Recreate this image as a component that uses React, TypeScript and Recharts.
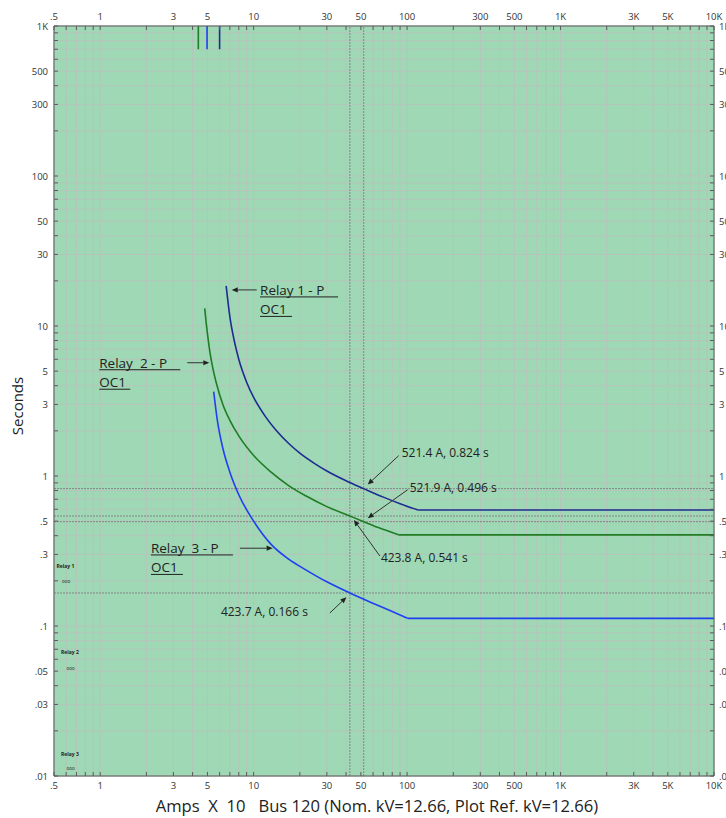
import React from 'react';
import { LineChart, Line, XAxis, YAxis, CartesianGrid, ReferenceLine, ReferenceDot } from 'recharts';

// time-current curves (x = Amps X 10, y = seconds)
const relay1Curve = [
  { x: 6.62, y: 18.5 }, { x: 7.0, y: 11.5 }, { x: 7.5, y: 7.85 }, { x: 8, y: 6.0 },
  { x: 9, y: 4.22 }, { x: 10, y: 3.34 }, { x: 12, y: 2.47 }, { x: 14, y: 2.02 },
  { x: 17, y: 1.64 }, { x: 20, y: 1.42 }, { x: 25, y: 1.21 }, { x: 30, y: 1.08 },
  { x: 40, y: 0.93 }, { x: 52.14, y: 0.824 }, { x: 70, y: 0.723 }, { x: 90, y: 0.654 },
  { x: 118, y: 0.593 },
];
const relay1Flat = [{ x: 118, y: 0.593 }, { x: 10000, y: 0.593 }];
const relay2Curve = [
  { x: 4.8, y: 13.1 }, { x: 4.9, y: 10.6 }, { x: 5.0, y: 8.9 }, { x: 5.2, y: 6.6 },
  { x: 5.45, y: 5.1 }, { x: 5.7, y: 4.2 }, { x: 6.3, y: 3.0 }, { x: 7, y: 2.35 },
  { x: 8, y: 1.85 }, { x: 10, y: 1.37 }, { x: 13, y: 1.06 }, { x: 17, y: 0.86 },
  { x: 22, y: 0.735 }, { x: 30, y: 0.625 }, { x: 42.38, y: 0.541 }, { x: 52.19, y: 0.496 },
  { x: 65, y: 0.453 }, { x: 88, y: 0.405 },
];
const relay2Flat = [{ x: 88, y: 0.405 }, { x: 10000, y: 0.405 }];
const relay3Curve = [
  { x: 5.49, y: 3.65 }, { x: 5.8, y: 2.35 }, { x: 6.3, y: 1.53 }, { x: 7, y: 1.06 },
  { x: 8, y: 0.75 }, { x: 10, y: 0.5 }, { x: 13, y: 0.35 }, { x: 17, y: 0.278 },
  { x: 22, y: 0.236 }, { x: 30, y: 0.197 }, { x: 42.37, y: 0.166 }, { x: 59.8, y: 0.142 },
  { x: 80, y: 0.125 }, { x: 101, y: 0.1125 },
];
const relay3Flat = [{ x: 101, y: 0.1125 }, { x: 10000, y: 0.1125 }];
const relay1Top = [{ x: 6.0, y: 1000 }, { x: 6.0, y: 700 }];
const relay2Top = [{ x: 4.36, y: 1000 }, { x: 4.36, y: 700 }];
const relay3Top = [{ x: 4.97, y: 1000 }, { x: 4.97, y: 700 }];

const xLabelValues = [0.5, 1, 3, 5, 10, 30, 50, 100, 300, 500, 1000, 3000, 5000, 10000];
const xLabelTexts = ['.5', '1', '3', '5', '10', '30', '50', '100', '300', '500', '1K', '3K', '5K', '10K'];
const yLabelValues = [0.01, 0.03, 0.05, 0.1, 0.3, 0.5, 1, 3, 5, 10, 30, 50, 100, 300, 500, 1000];
const yLabelTexts = ['.01', '.03', '.05', '.1', '.3', '.5', '1', '3', '5', '10', '30', '50', '100', '300', '500', '1K'];

const cursorX = [42.38, 52.14];
const cursorY = [0.824, 0.541, 0.496, 0.166];

const minorTicks = (decades: number[], lo: number, hi: number) => {
  const out: number[] = [];
  decades.forEach((d) => {
    for (let m = 1; m <= 9; m++) {
      const v = parseFloat((m * d).toPrecision(3));
      if (v >= lo && v <= hi) out.push(v);
    }
  });
  return out;
};
const xTicks = minorTicks([0.1, 1, 10, 100, 1000, 10000], 0.5, 10000);
const yTicks = minorTicks([0.01, 0.1, 1, 10, 100, 1000], 0.01, 1000);

const labelFor = (v: number, vals: number[], texts: string[]) => {
  const i = vals.findIndex((a) => Math.abs(Math.log10(a) - Math.log10(v)) < 1e-6);
  return i >= 0 ? texts[i] : '';
};

const FONT = '"Open Sans", sans-serif';
const AXIS = '#5a5a5a';
const TICKTXT = '#333';
const TS = 9.5;

const BottomTick = (p: any) => {
  const t = labelFor(p.payload.value, xLabelValues, xLabelTexts);
  return (
    <g>
      <line x1={p.x} x2={p.x} y1={p.y} y2={p.y - 4} stroke={AXIS} />
      {t && <text x={p.x} y={p.y + 13} textAnchor="middle" fontSize={TS} fontFamily={FONT} fill={TICKTXT}>{t}</text>}
    </g>
  );
};
const TopTick = (p: any) => {
  const t = labelFor(p.payload.value, xLabelValues, xLabelTexts);
  return (
    <g>
      <line x1={p.x} x2={p.x} y1={p.y} y2={p.y + 4} stroke={AXIS} />
      {t && <text x={p.x} y={p.y - 6} textAnchor="middle" fontSize={TS} fontFamily={FONT} fill={TICKTXT}>{t}</text>}
    </g>
  );
};
const LeftTick = (p: any) => {
  const t = labelFor(p.payload.value, yLabelValues, yLabelTexts);
  return (
    <g>
      <line x1={p.x} x2={p.x + 4} y1={p.y} y2={p.y} stroke={AXIS} />
      {t && <text x={p.x - 6} y={p.y + 3.5} textAnchor="end" fontSize={TS} fontFamily={FONT} fill={TICKTXT}>{t}</text>}
    </g>
  );
};
const RightTick = (p: any) => {
  const t = labelFor(p.payload.value, yLabelValues, yLabelTexts);
  return (
    <g>
      <line x1={p.x} x2={p.x - 4} y1={p.y} y2={p.y} stroke={AXIS} />
      {t && <text x={p.x + 5} y={p.y + 3.5} textAnchor="start" fontSize={TS} fontFamily={FONT} fill={TICKTXT}>{t}</text>}
    </g>
  );
};

const XTitle = (p: any) => {
  const vb = p.viewBox || { x: 54, y: 776, width: 660 };
  return (
    <text x={vb.x + vb.width / 2 - 7} y={vb.y + 36} textAnchor="middle" fontSize={16.6} fontFamily={FONT} fill="#222" style={{ whiteSpace: 'pre' }}>
      {'Amps  X  10   Bus 120 (Nom. kV=12.66, Plot Ref. kV=12.66)'}
    </text>
  );
};
const YTitle = (p: any) => {
  const vb = p.viewBox || { x: 0, y: 26, height: 750 };
  const cy = vb.y + vb.height / 2 + 5;
  return (
    <text x={23} y={cy} transform={`rotate(-90 23 ${cy})`} textAnchor="middle" fontSize={15} fontFamily={FONT} fill="#222">
      Seconds
    </text>
  );
};

const Arrow = ({ x1, y1, x2, y2 }: { x1: number; y1: number; x2: number; y2: number }) => {
  // line from (x1,y1) with a filled head at (x2,y2)
  const a = Math.atan2(y2 - y1, x2 - x1);
  const L = 6, w = 2.6;
  const bx = x2 - L * Math.cos(a), by = y2 - L * Math.sin(a);
  const px = -Math.sin(a) * w, py = Math.cos(a) * w;
  return (
    <g>
      <line x1={x1} y1={y1} x2={bx} y2={by} stroke="#333" strokeWidth={1} />
      <polygon points={`${x2},${y2} ${bx + px},${by + py} ${bx - px},${by - py}`} fill="#222" />
    </g>
  );
};

// readout annotations, anchored on curve points
const readouts = [
  { x: 52.14, y: 0.824, text: '521.4 A, 0.824 s', tip: [4, -4], tail: [35, -33], tx: 38, ty: -32, anchor: 'start' },
  { x: 52.19, y: 0.496, text: '521.9 A, 0.496 s', tip: [4, -3.5], tail: [44, -32], tx: 46, ty: -30, anchor: 'start' },
  { x: 42.38, y: 0.541, text: '423.8 A, 0.541 s', tip: [4, 4], tail: [30, 40], tx: 31, ty: 46, anchor: 'start' },
  { x: 42.37, y: 0.166, text: '423.7 A, 0.166 s', tip: [-3.5, 4.3], tail: [-20, 20], tx: -42, ty: 23, anchor: 'end' },
];

// relay name callouts, anchored at arrow tips
const relayNotes = [
  { x: 7.2, y: 17.4, line1: 'Relay 1 - P', line2: 'OC1', tail: 25, tx: 28.3, ty: 5, w1: 78, w2: 32 },
  { x: 5.14, y: 5.69, line1: 'Relay  2 - P', line2: 'OC1', tail: -22, tx: -110, ty: 5, w1: 81, w2: 31 },
  { x: 13.3, y: 0.33, line1: 'Relay  3 - P', line2: 'OC1', tail: -32.7, tx: -121.7, ty: 4.7, w1: 82, w2: 32 },
];

// tiny device tags at left edge
const tagNotes = [
  { y: 0.2435, text: 'Relay 1', dx: 2.5, bold: true },
  { y: 0.1936, text: 'ooo', dx: 8, bold: false },
  { y: 0.0651, text: 'Relay 2', dx: 7, bold: true },
  { y: 0.0509, text: 'ooo', dx: 12.5, bold: false },
  { y: 0.01369, text: 'Relay 3', dx: 7, bold: true },
  { y: 0.01096, text: 'ooo', dx: 12.5, bold: false },
];

const NAVY = '#1d2c92';
const GREEN = '#1f7d24';
const BLUE = '#1e40f2';
const CURSOR = '#858585';

export default function App() {
  const lineProps = { xAxisId: 'b', yAxisId: 'l', dataKey: 'y', dot: false, isAnimationActive: false, strokeWidth: 1.6 } as any;
  return (
    <div style={{ position: 'absolute', left: 0, top: 0, width: 726, height: 818, background: '#fff' }}>
      <LineChart width={726} height={818} margin={{ top: 0, right: 0, bottom: 0, left: 0 }}>
        <CartesianGrid xAxisId="b" yAxisId="l" fill="#9ed8b4" fillOpacity={1} stroke="#b6c5bb" strokeWidth={1} />
        <XAxis
          xAxisId="b" orientation="bottom" type="number" dataKey="x" scale="log" domain={[0.5, 10000]}
          allowDataOverflow ticks={xTicks} interval={0} height={42} tickSize={0} tickMargin={0}
          tick={<BottomTick />} axisLine={{ stroke: AXIS }} label={<XTitle />}
        />
        <XAxis
          xAxisId="t" orientation="top" type="number" dataKey="x" scale="log" domain={[0.5, 10000]}
          allowDataOverflow ticks={xTicks} interval={0} height={26} tickSize={0} tickMargin={0}
          tick={<TopTick />} axisLine={{ stroke: AXIS }}
        />
        <YAxis
          yAxisId="l" orientation="left" type="number" scale="log" domain={[0.01, 1000]}
          allowDataOverflow ticks={yTicks} interval={0} width={54} tickSize={0} tickMargin={0}
          tick={<LeftTick />} axisLine={{ stroke: AXIS }} label={<YTitle />}
        />
        <YAxis
          yAxisId="r" orientation="right" type="number" scale="log" domain={[0.01, 1000]}
          allowDataOverflow ticks={yTicks} interval={0} width={12} tickSize={0} tickMargin={0}
          tick={<RightTick />} axisLine={{ stroke: AXIS }}
        />

        {cursorY.map((v) => (
          <ReferenceLine key={`cy${v}`} xAxisId="b" yAxisId="l" y={v} stroke={CURSOR} strokeDasharray="2 1" />
        ))}
        {cursorX.map((v) => (
          <ReferenceLine key={`cx${v}`} xAxisId="b" yAxisId="l" x={v} stroke={CURSOR} strokeDasharray="2 1" />
        ))}

        <Line {...lineProps} data={relay1Curve} stroke={NAVY} type="monotone" />
        <Line {...lineProps} data={relay1Flat} stroke={NAVY} type="linear" />
        <Line {...lineProps} data={relay1Top} stroke={NAVY} type="linear" />
        <Line {...lineProps} data={relay2Curve} stroke={GREEN} type="monotone" />
        <Line {...lineProps} data={relay2Flat} stroke={GREEN} type="linear" />
        <Line {...lineProps} data={relay2Top} stroke={GREEN} type="linear" />
        <Line {...lineProps} data={relay3Curve} stroke={BLUE} type="monotone" />
        <Line {...lineProps} data={relay3Flat} stroke={BLUE} type="linear" />
        <Line {...lineProps} data={relay3Top} stroke={BLUE} type="linear" />

        {readouts.map((n) => (
          <ReferenceDot
            key={n.text} xAxisId="b" yAxisId="l" x={n.x} y={n.y} ifOverflow="visible"
            shape={(p: any) => (
              <g>
                <Arrow x1={p.cx + n.tail[0]} y1={p.cy + n.tail[1]} x2={p.cx + n.tip[0]} y2={p.cy + n.tip[1]} />
                <text x={p.cx + n.tx} y={p.cy + n.ty} textAnchor={n.anchor} fontSize={12} fontFamily={FONT} fill="#222">{n.text}</text>
              </g>
            )}
          />
        ))}

        {relayNotes.map((n) => (
          <ReferenceDot
            key={n.line1} xAxisId="b" yAxisId="l" x={n.x} y={n.y} ifOverflow="visible"
            shape={(p: any) => (
              <g>
                <Arrow x1={p.cx + n.tail} y1={p.cy} x2={p.cx} y2={p.cy} />
                <text x={p.cx + n.tx} y={p.cy + n.ty} fontSize={13.5} fontFamily={FONT} fill="#222" style={{ whiteSpace: 'pre' }}>{n.line1}</text>
                <line x1={p.cx + n.tx} x2={p.cx + n.tx + n.w1} y1={p.cy + n.ty + 2} y2={p.cy + n.ty + 2} stroke="#222" />
                <text x={p.cx + n.tx} y={p.cy + n.ty + 19.5} fontSize={13.5} fontFamily={FONT} fill="#222">{n.line2}</text>
                <line x1={p.cx + n.tx} x2={p.cx + n.tx + n.w2} y1={p.cy + n.ty + 21.5} y2={p.cy + n.ty + 21.5} stroke="#222" />
              </g>
            )}
          />
        ))}

        {tagNotes.map((n, i) => (
          <ReferenceDot
            key={`tag${i}`} xAxisId="b" yAxisId="l" x={0.5} y={n.y} ifOverflow="visible"
            shape={(p: any) => (
              <text x={p.cx + n.dx} y={p.cy} fontSize={n.bold ? 5 : 4.5} fontWeight={n.bold ? 700 : 400} fontFamily={FONT} fill="#222">{n.text}</text>
            )}
          />
        ))}
      </LineChart>
    </div>
  );
}
